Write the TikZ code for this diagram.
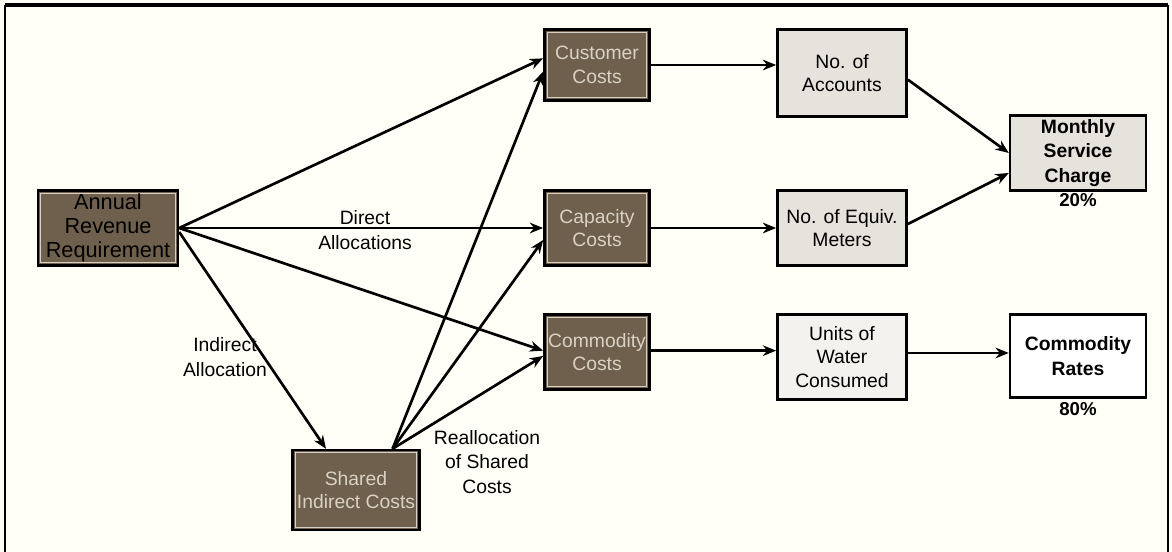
\documentclass[tikz,border=0pt]{standalone}
\usepackage{fontspec}
\setmainfont{Liberation Sans}
\usetikzlibrary{arrows.meta}
\definecolor{darkfill}{HTML}{6E604C}
\definecolor{lightfill}{HTML}{E6E2DC}
\definecolor{palefill}{HTML}{F4F2EF}
\definecolor{embtext}{HTML}{D9D2C4}
\definecolor{innerline}{HTML}{D8D2C6}
\begin{document}
\begin{tikzpicture}[x=0.75pt,y=-0.75pt,
  darkbox/.style={draw=black, line width=1.8pt, fill=darkfill, text=embtext, align=center,
    font=\fontsize{14.5}{17.5}\selectfont, inner sep=1pt,
    path picture={\draw[innerline, line width=0.8pt]
      ([shift={(2.2pt,-2.2pt)}]path picture bounding box.north west) rectangle
      ([shift={(-2.2pt,2.2pt)}]path picture bounding box.south east);}},
  lightbox/.style={draw=black, line width=1.8pt, fill=lightfill, text=black, align=center,
    font=\fontsize{14.5}{17.5}\selectfont, inner sep=1pt},
  lbl/.style={align=center, font=\fontsize{14.5}{18.5}\selectfont, inner sep=0pt},
  arr/.style={line width=2pt, -{Stealth[length=10pt,width=8pt]}},
]
\useasboundingbox (0,0) rectangle (1172,552);
\fill[white!97!yellow] (0,0) rectangle (1172,552);
% frame
\draw[line width=1.6pt] (5,560) -- (5,6) -- (1168,6) -- (1168,560);
\draw[line width=3pt] (5,5) -- (1168,5);

% nodes
\node[darkbox, text=black, font=\fontsize{16.3}{18}\selectfont, minimum width=105pt, minimum height=56pt] (ann) at (108,228)
  {Annual\\Revenue\\Requirement};
\node[darkbox, minimum width=79pt, minimum height=53pt] (cust) at (597,65) {Customer\\Costs};
\node[darkbox, minimum width=79pt, minimum height=56pt] (cap) at (597,228) {Capacity\\Costs};
\node[darkbox, minimum width=79pt, minimum height=56pt] (com) at (597,352) {Commodity\\Costs};
\node[darkbox, minimum width=95pt, minimum height=60pt] (shared) at (356,490) {Shared\\Indirect Costs};

\node[lightbox, minimum width=97pt, minimum height=65pt] (acc) at (842,73) {No. of\\Accounts};
\node[lightbox, minimum width=97pt, minimum height=56pt] (mtr) at (842,228) {No. of Equiv.\\Meters};
\node[lightbox, fill=palefill, minimum width=97pt, minimum height=64pt] (units) at (842,357) {Units of\\Water\\Consumed};
\node[lightbox, minimum width=102pt, minimum height=56pt, font=\bfseries\fontsize{14.5}{18.5}\selectfont] (msc) at (1078,153) {Monthly\\Service\\Charge};
\node[lightbox, fill=white, minimum width=102pt, minimum height=62pt, font=\bfseries\fontsize{14.5}{19}\selectfont] (rates) at (1078,356) {Commodity\\Rates};

\node[lbl, font=\bfseries\fontsize{14}{17}\selectfont, anchor=north] (p20) at (1078,193) {20\%};
\node[lbl, font=\bfseries\fontsize{14}{17}\selectfont, anchor=north] (p80) at (1078,402) {80\%};

% labels
\node[lbl] (ldirect) at (365,230) {Direct\\Allocations};
\node[lbl] (lind) at (225,357) {Indirect\\Allocation};
\node[lbl] (lreal) at (487,462) {Reallocation\\of Shared\\Costs};

% connectors
\coordinate (annout) at (ann.east);
\coordinate (shtop) at ([xshift=-28*0.75pt]shared.north east);

\draw[arr] (annout) -- ([yshift=5pt]cust.west);
\draw[arr] (annout) -- (cap.west);
\draw[arr] (annout) -- ([yshift=1pt]com.west);
\draw[arr] ([yshift=-3pt]annout) -- ([xshift=-30*0.75pt]shared.north);

\draw[arr] (shtop) -- ([yshift=-5pt]cust.west);
\draw[arr] (shtop) -- ([yshift=-9pt]cap.west);
\draw[arr] (shtop) -- ([yshift=-3pt]com.west);

\draw[arr] (cust.east) -- (cust.east -| acc.west);
\draw[arr] (cap.east) -- (mtr.west);
\draw[arr] ([yshift=1pt]com.east) -- ([yshift=1pt]com.east -| units.west);
\draw[arr] ([yshift=-5pt]acc.east) -- ([yshift=0pt]msc.west);
\draw[arr] ([yshift=3pt]mtr.east) -- ([yshift=-15pt]msc.west);
\draw[arr] ([yshift=3pt]units.east) -- ([yshift=3pt]units.east -| rates.west);
\end{tikzpicture}
\end{document}
